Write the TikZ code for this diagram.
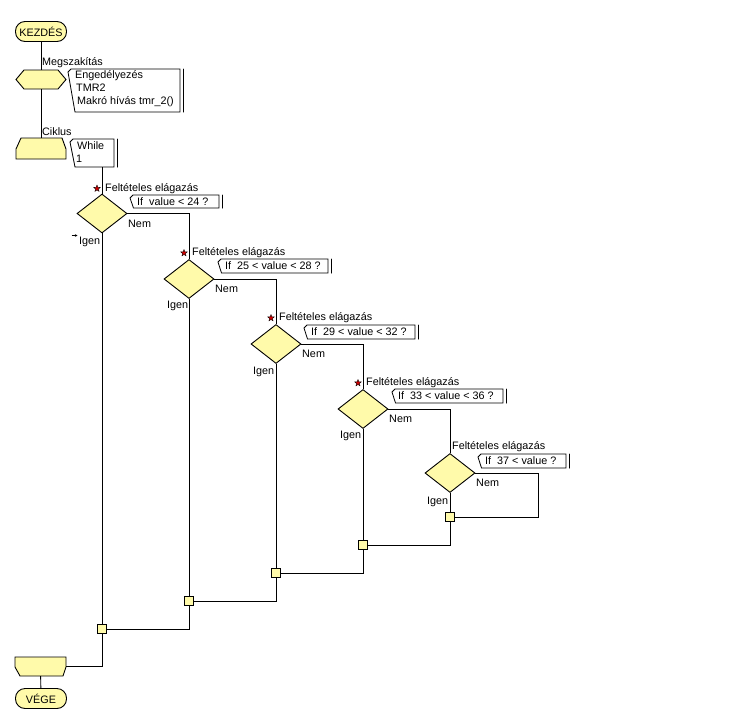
\documentclass[tikz,border=0pt]{standalone}
\usepackage{fontspec}
\setmainfont{Liberation Sans}
\usetikzlibrary{shapes.geometric,arrows.meta}
\definecolor{fcy}{RGB}{255,250,170}
\newcommand\cmtbox[6]{% #1 name, #2 x0, #3 y0, #4 x1, #5 y1, #6 slant
  \draw[cmt] (#2+3,#3) -- (#2,#3+3) -- (#2+#6,#5) -- (#4,#5) -- (#4,#3) -- cycle;
  \draw[line width=1pt, line cap=round] (#4+3,#3) -- (#4+3,#5);
  \coordinate (#1) at (#2,#3+3);
}
\begin{document}
\begin{tikzpicture}[x=1pt,y=-1pt,
  every node/.style={font=\fontsize{10.8}{13}\selectfont, inner sep=0pt},
  ln/.style={line width=0.9pt, draw=black},
  shp/.style={draw=black, fill=fcy, line width=0.9pt},
  lbl/.style={anchor=base west},
  term/.style={shp, rounded corners=9.5pt, minimum width=51pt, minimum height=20pt},
  ghost/.style={draw=none, fill=none, rectangle},
  dec/.style={shp, diamond, minimum width=50pt, minimum height=39pt},
  junc/.style={shp, rectangle, minimum size=9pt},
  cmt/.style={draw=black, fill=white, line width=0.8pt},
  starmark/.style={star, star points=5, star point ratio=2.3, draw=black, fill=red!80!black, line width=0.35pt, minimum size=7pt, inner sep=0pt}
]
\useasboundingbox (0,0) rectangle (740,721);
\fill[white] (0,0) rectangle (740,721);

% terminals
\node[term] (kez) at (41,31.5) {KEZDÉS};
\node[term] (vege) at (41,698.5) {VÉGE};

% interrupt hexagon
\draw[shp] (16,79.5) -- (24,70) -- (58,70) -- (66,79.5) -- (58,89) -- (24,89) -- cycle;
\node[ghost, minimum width=50pt, minimum height=19pt] (hx) at (41,79.5) {};
\node[lbl] (tmeg) at (42,65) {Megszakítás};
\cmtbox{hxc}{68}{69}{180}{112}{7}
\node[lbl] (t1) at (75,78.5) {Engedélyezés};
\node[lbl] (t2) at (76,91.5) {TMR2};
\node[lbl] (t3) at (77,104.5) {Makró hívás tmr\_2()};

% loop start
\draw[shp] (16,159) -- (16,149) -- (21,138) -- (62,138) -- (66,149) -- (66,159) -- cycle;
\node[ghost, minimum width=50pt, minimum height=21pt] (ls) at (41,148.5) {};
\node[lbl] (tcik) at (42,135) {Ciklus};
\cmtbox{wc}{70}{139}{114}{167}{5}
\node[lbl] (tw1) at (77,149) {While};
\node[lbl] (tw2) at (76,162) {1};
\coordinate (wcb) at (102,167);

% loop end
\draw[shp] (15,657) -- (66,657) -- (66,667) -- (63,676) -- (20,676) -- (15,667) -- cycle;
\node[ghost, minimum width=51pt, minimum height=19pt] (le) at (40.5,666.5) {};

% decisions
\node[dec] (d1) at (102,213.5) {};
\node[dec] (d2) at (189,279) {};
\node[dec] (d3) at (276,344) {};
\node[dec] (d4) at (363,409) {};
\node[dec] (d5) at (450,473) {};

\node[lbl] (f1) at (105,191) {Feltételes elágazás};
\node[lbl] (f2) at (192,255.5) {Feltételes elágazás};
\node[lbl] (f3) at (279,320.5) {Feltételes elágazás};
\node[lbl] (f4) at (366,385.5) {Feltételes elágazás};
\node[lbl] (f5) at (452,449) {Feltételes elágazás};

\node[starmark] (s1) at (97,188.5) {};
\node[starmark] (s2) at (184,253) {};
\node[starmark] (s3) at (271,318) {};
\node[starmark] (s4) at (358,383) {};

\cmtbox{c1}{130}{195}{219}{208}{3.5}
\node[lbl] (q1) at (137,205) {If\ \ value < 24 ?};
\cmtbox{c2}{218}{259}{328}{273}{3.5}
\node[lbl] (q2) at (225,269.5) {If\ \ 25 < value < 28 ?};
\cmtbox{c3}{304}{325}{415}{339}{3.5}
\node[lbl] (q3) at (311,335) {If\ \ 29 < value < 32 ?};
\cmtbox{c4}{392}{389}{503}{403}{3.5}
\node[lbl] (q4) at (398,399.5) {If\ \ 33 < value < 36 ?};
\cmtbox{c5}{478}{454}{566}{468}{3.5}
\node[lbl] (q5) at (485,464.5) {If\ \ 37 < value ?};

\node[lbl] (n1) at (128,227) {Nem};
\node[lbl] (n2) at (215,292.5) {Nem};
\node[lbl] (n3) at (302,357.5) {Nem};
\node[lbl] (n4) at (389,422) {Nem};
\node[lbl] (n5) at (476,486.5) {Nem};

\node[lbl] (i1) at (79,244.5) {Igen};
\node[lbl] (i2) at (167,308.5) {Igen};
\node[lbl] (i3) at (253,374.5) {Igen};
\node[lbl] (i4) at (340,438.5) {Igen};
\node[lbl] (i5) at (427,504) {Igen};
\coordinate (ia) at (71.5,235.5);
\coordinate (ib) at (77.5,235.5);
\draw[-{Stealth[length=2.5pt,width=2.5pt]}, line width=0.5pt] (ia) -- (ib);

% junctions
\node[junc] (j5) at (450,517) {};
\node[junc] (j4) at (363,545) {};
\node[junc] (j3) at (276,573) {};
\node[junc] (j2) at (189,601) {};
\node[junc] (j1) at (102,629) {};
\coordinate (k5) at (538,517);

% connectors
\draw[ln] (kez) -- (hx);
\draw[ln] (hx) -- (ls);
\draw[ln] (wcb) -- (d1.north);
\draw[ln] (d1.south) -- (j1.north);
\draw[ln] (d2.south) -- (j2.north);
\draw[ln] (d3.south) -- (j3.north);
\draw[ln] (d4.south) -- (j4.north);
\draw[ln] (d5.south) -- (j5.north);
\draw[ln] (d1.east) -| (d2.north);
\draw[ln] (d2.east) -| (d3.north);
\draw[ln] (d3.east) -| (d4.north);
\draw[ln] (d4.east) -| (d5.north);
\draw[ln] (d5.east) -| (k5) -- (j5.east);
\draw[ln] (j5.south) |- (j4.east);
\draw[ln] (j4.south) |- (j3.east);
\draw[ln] (j3.south) |- (j2.east);
\draw[ln] (j2.south) |- (j1.east);
\draw[ln] (j1.south) |- (le.east);
\draw[ln] (le) -- (vege);
\end{tikzpicture}
\end{document}
